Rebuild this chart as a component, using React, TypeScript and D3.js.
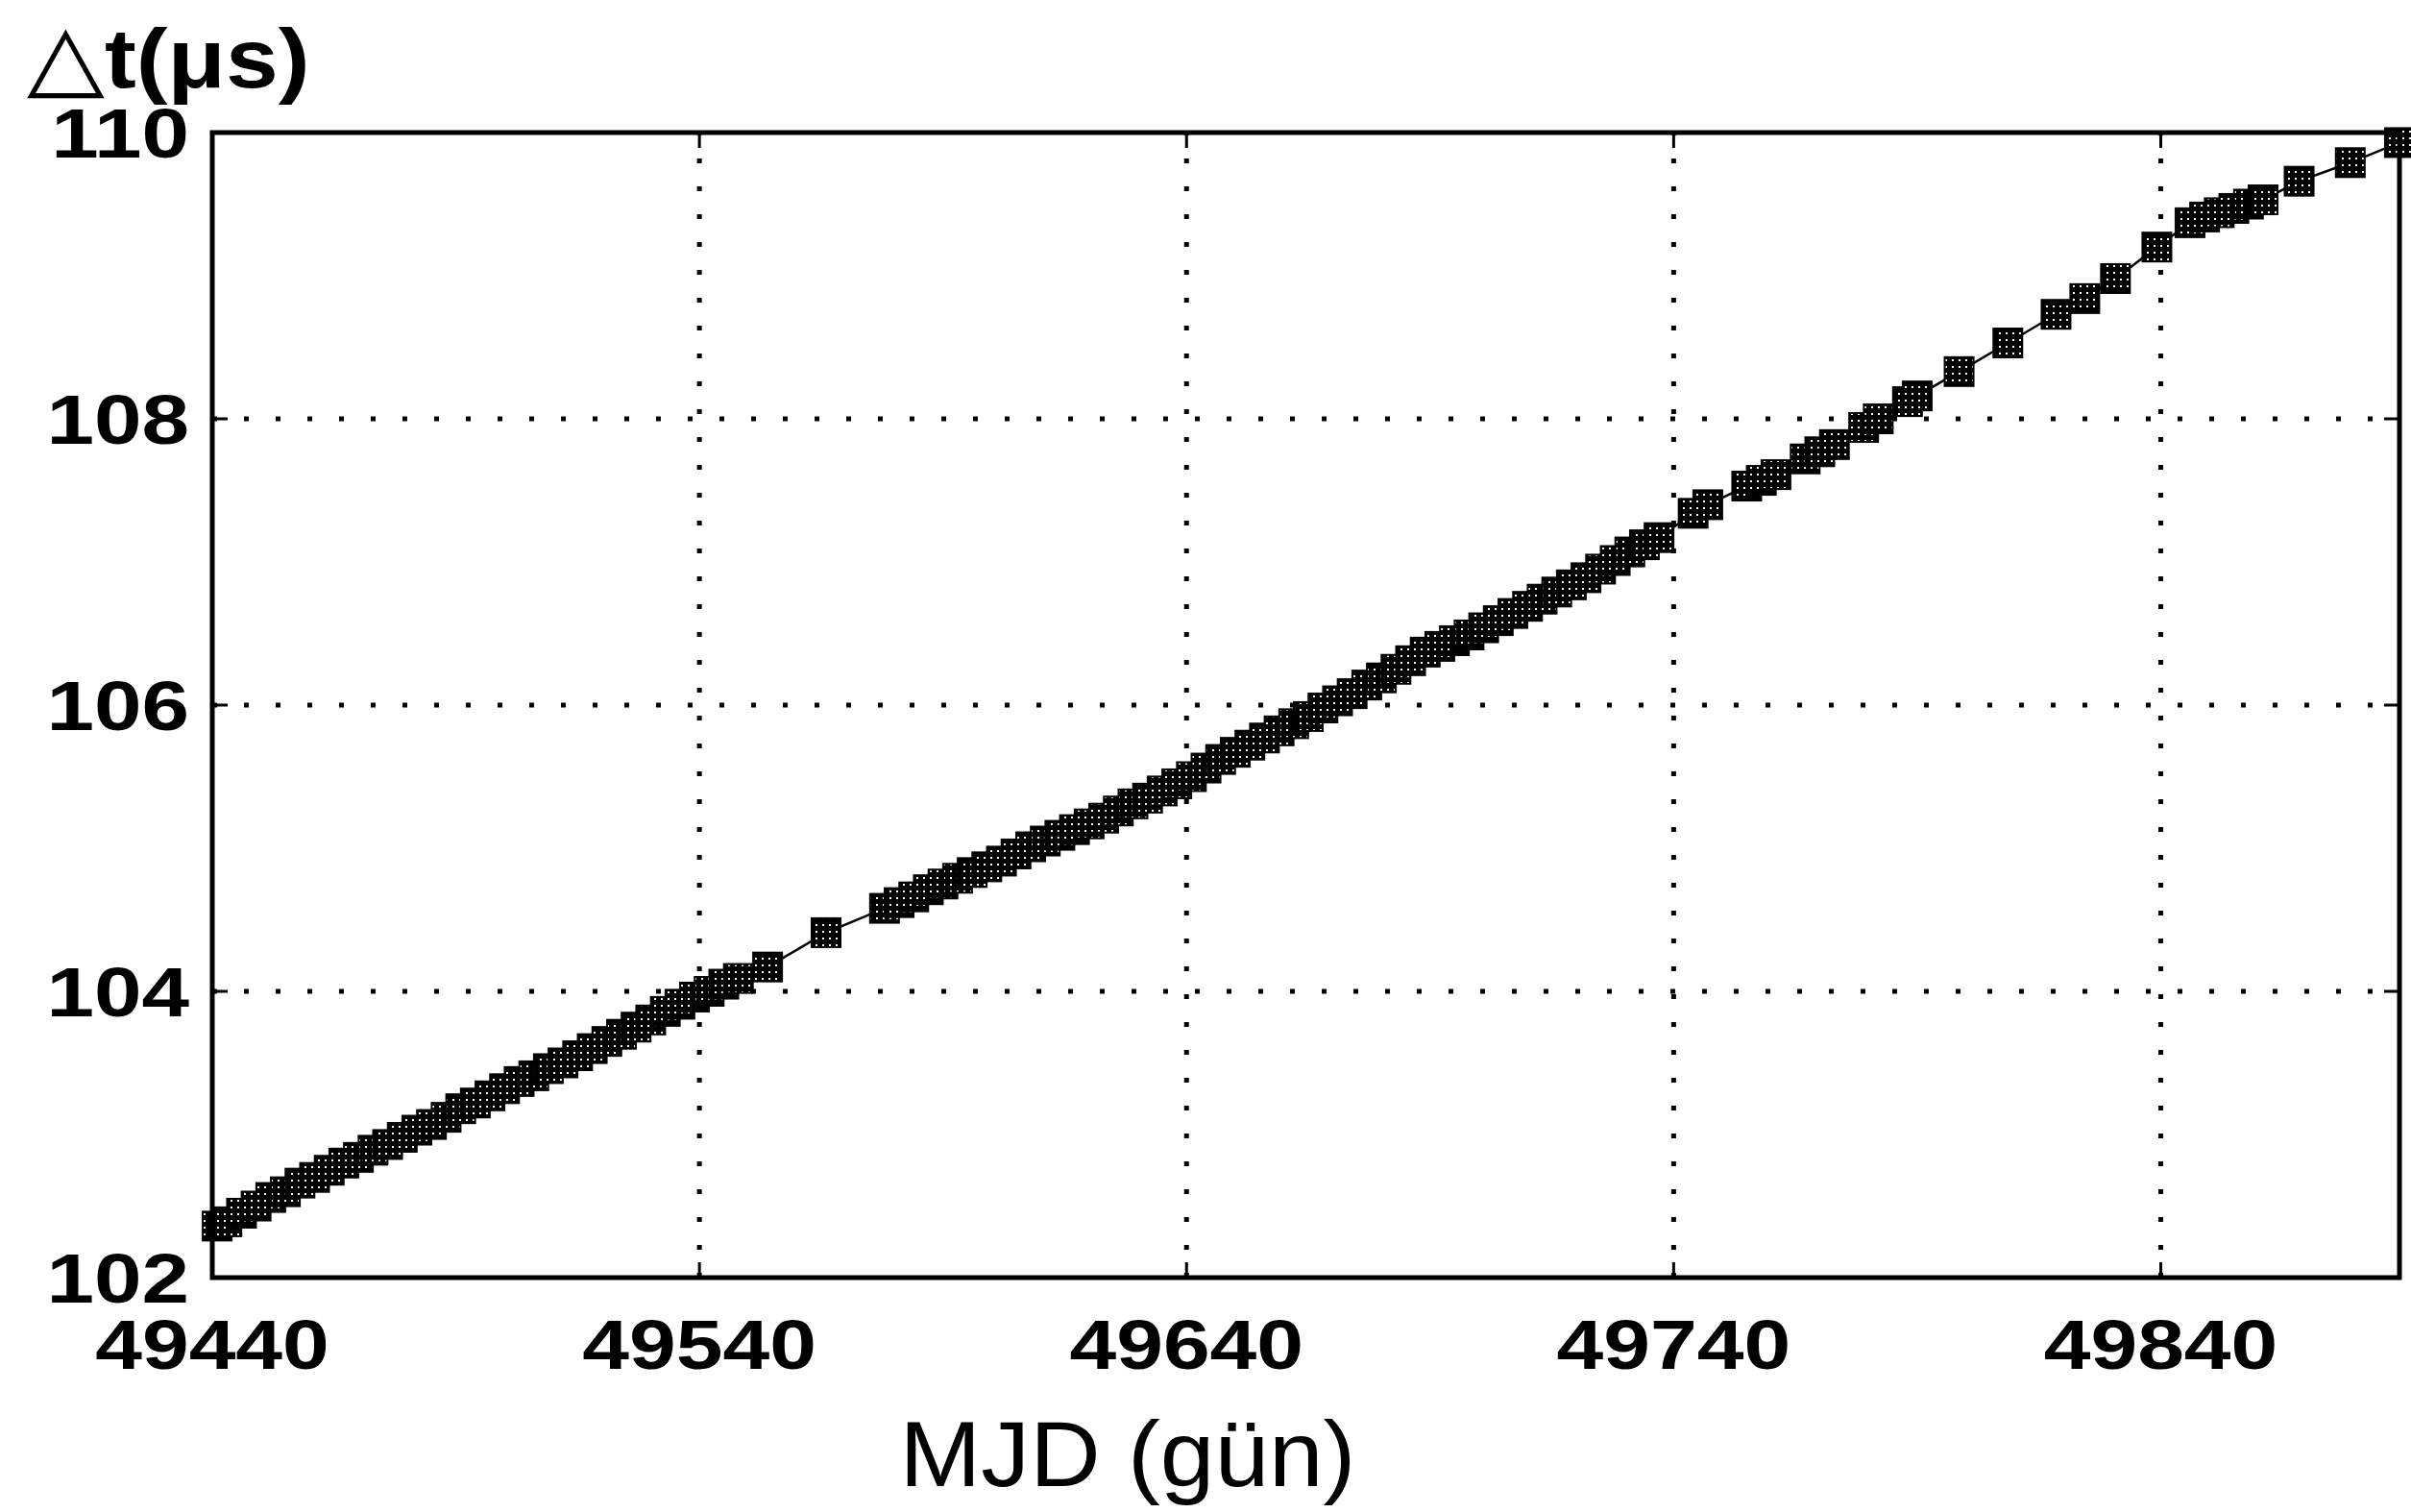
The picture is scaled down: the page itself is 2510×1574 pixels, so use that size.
import React from 'react';
import * as d3 from 'd3';

// MJD (days) of each timing point
const mjd = [
  49441, 49443, 49446, 49449, 49452, 49455, 49458, 49461, 49464, 49467,
  49470, 49473, 49476, 49479, 49482, 49485, 49488, 49491, 49494, 49497,
  49500, 49503, 49506, 49509, 49512, 49515, 49518, 49521, 49524, 49527,
  49530, 49533, 49536, 49539, 49542, 49545, 49548,
  49554, 49566,
  49578, 49581, 49584, 49587, 49590, 49593, 49596, 49599, 49602, 49605,
  49608, 49611, 49614, 49617, 49620, 49623, 49626, 49629, 49632, 49635,
  49638, 49641, 49644, 49647, 49650, 49653, 49656, 49659, 49662, 49665,
  49668, 49671, 49674, 49677, 49680, 49683, 49686, 49689, 49692, 49695,
  49698, 49701, 49704, 49707, 49710, 49713, 49716, 49719, 49722, 49725,
  49728, 49731, 49734, 49737,
  49744, 49747,
  49755, 49758, 49761,
  49767, 49770, 49773,
  49779, 49782,
  49788, 49790,
  49798.6, 49808.6, 49818.5, 49824.4, 49830.7, 49839.2,
  49846, 49849, 49852, 49855, 49858, 49861,
  49868.4, 49878.9, 49889,
];

// clock offset Δt (μs)
const dt = [
  102.36, 102.39, 102.45, 102.50, 102.56, 102.60, 102.66, 102.70, 102.75, 102.80,
  102.84, 102.89, 102.93, 102.98, 103.03, 103.07, 103.12, 103.18, 103.22, 103.27,
  103.32, 103.37, 103.41, 103.46, 103.50, 103.55, 103.60, 103.65, 103.70, 103.75,
  103.80, 103.86, 103.91, 103.96, 104.00, 104.05, 104.09,
  104.17, 104.41,
  104.58, 104.62, 104.66, 104.71, 104.75, 104.79, 104.83, 104.87, 104.91, 104.96,
  105.01, 105.05, 105.09, 105.13, 105.17, 105.21, 105.26, 105.31, 105.35, 105.40,
  105.45, 105.50, 105.56, 105.62, 105.67, 105.72, 105.77, 105.82, 105.87, 105.92,
  105.98, 106.03, 106.08, 106.14, 106.19, 106.25, 106.31, 106.37, 106.41, 106.45,
  106.49, 106.54, 106.59, 106.64, 106.69, 106.74, 106.79, 106.84, 106.89, 106.95,
  107.01, 107.07, 107.12, 107.17,
  107.34, 107.40,
  107.53, 107.57, 107.61,
  107.72, 107.77, 107.82,
  107.94, 108.00,
  108.12, 108.16,
  108.33, 108.53, 108.73, 108.84, 108.98, 109.20,
  109.37, 109.41, 109.44, 109.47, 109.50, 109.53,
  109.66, 109.79, 109.93,
];

const xTicks = [49440, 49540, 49640, 49740, 49840];
const yTicks = [102, 104, 106, 108, 110];

const W = 2510;
const H = 1574;
const left = 221, right = 2498, top = 138, bottom = 1330;

const App: React.FC = () => {
  const x = d3.scaleLinear().domain([49440, 49889]).range([left, right]);
  const y = d3.scaleLinear().domain([102, 110]).range([bottom, top]);

  const pts = mjd.map((m, i) => [m, dt[i]] as [number, number]);
  const line = d3.line<[number, number]>().x(d => x(d[0])).y(d => y(d[1]));

  const tickFont = "'Liberation Sans', Arial, sans-serif";
  const ms = 30;
  const tl = 16;

  return (
    <svg width={W} height={H} style={{ position: 'absolute', left: 0, top: 0, background: '#fff' }}>
      <defs>
        <pattern id="speck" width="7" height="7" patternUnits="userSpaceOnUse">
          <rect width="7" height="7" fill="#000" />
          <rect x="2" y="3" width="2" height="2" fill="#fff" />
        </pattern>
      </defs>
      <rect width={W} height={H} fill="#fff" />

      {/* grid */}
      <g stroke="#000" strokeWidth={5}>
        {xTicks.slice(1).map(t => (
          <line key={'gx' + t} x1={x(t)} x2={x(t)} y1={bottom} y2={top} strokeDasharray="5,24" />
        ))}
        {yTicks.slice(1, -1).map(t => (
          <line key={'gy' + t} x1={left} x2={right} y1={y(t)} y2={y(t)} strokeDasharray="5,28" />
        ))}
      </g>

      {/* ticks */}
      <g stroke="#000" strokeWidth={3}>
        {xTicks.map(t => (
          <g key={'tx' + t}>
            <line x1={x(t)} x2={x(t)} y1={bottom} y2={bottom - tl} />
            <line x1={x(t)} x2={x(t)} y1={top} y2={top + tl} />
          </g>
        ))}
        {yTicks.map(t => (
          <g key={'ty' + t}>
            <line x1={left} x2={left + tl} y1={y(t)} y2={y(t)} />
            <line x1={right} x2={right - tl} y1={y(t)} y2={y(t)} />
          </g>
        ))}
      </g>

      {/* data */}
      <path d={line(pts) || ''} fill="none" stroke="#000" strokeWidth={2.5} />
      <g>
        {pts.map((p, i) => (
          <rect key={i} x={x(p[0]) - ms / 2} y={y(p[1]) - ms / 2} width={ms} height={ms}
            fill="url(#speck)" stroke="#000" strokeWidth={2} />
        ))}
      </g>

      {/* frame */}
      <rect x={left} y={top} width={right - left} height={bottom - top} fill="none" stroke="#000" strokeWidth={5} />

      {/* tick labels */}
      <g fontFamily={tickFont} fontWeight="bold" fontSize={73} fill="#000">
        {xTicks.map(t => (
          <text key={'lx' + t} transform={`translate(${x(t)},1425) scale(1.2,1)`} textAnchor="middle">{t}</text>
        ))}
        {yTicks.map(t => (
          <text key={'ly' + t} transform={`translate(197,${y(t) + 26}) scale(1.22,1)`} textAnchor="end">{t}</text>
        ))}
      </g>

      {/* axis titles */}
      <text transform="translate(28,91) scale(1.12,1)" fill="#000">
        <tspan fontFamily="'DejaVu Sans', sans-serif" fontSize={94}>△</tspan>
        <tspan fontFamily={tickFont} fontWeight="bold" fontSize={88}>t(μs)</tspan>
      </text>
      <text transform="translate(1174,1547) scale(1.06,1)" textAnchor="middle" fontFamily={tickFont} fontSize={96} fill="#000">
        MJD (gün)
      </text>
    </svg>
  );
};

export default App;
